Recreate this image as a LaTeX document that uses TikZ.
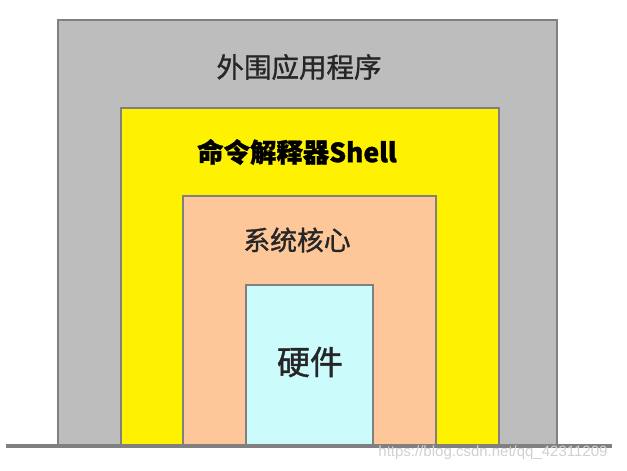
\documentclass[tikz,border=0pt]{standalone}
\usepackage{fontspec}
\setmainfont{Liberation Sans}
\newfontfamily\cjk[FakeBold=1.2]{Noto Sans CJK SC}
\begin{document}
\begin{tikzpicture}[x=1pt,y=1pt,
  layer/.style={draw=black!50, line width=2.5pt},
  lbl/.style={text=black!85}]
\useasboundingbox (0,0) rectangle (627,471);
\fill[white] (0,0) rectangle (627,471);
\filldraw[layer, fill=black!26] (58,25) |- (557,451) -- (557,25);
\filldraw[layer, fill=yellow] (121,25) |- (499,363) -- (499,25);
\filldraw[layer, fill={rgb,255:red,253;green,199;blue,153}] (183,25) |- (436,275) -- (436,25);
\filldraw[layer, fill={rgb,255:red,204;green,251;blue,251}] (246,25) |- (373,186) -- (373,25);
\node[lbl, font=\cjk\fontsize{27.5}{30}\selectfont] (app) at (299,404) {外围应用程序};
\node[lbl, font=\cjk\bfseries\fontsize{26.4}{30}\selectfont, text=black] (shell) at (297,319) {命令解释器Shell};
\node[lbl, font=\cjk\fontsize{26.8}{30}\selectfont] (kernel) at (297,231) {系统核心};
\node[lbl, font=\cjk\fontsize{33}{36}\selectfont] (hw) at (310,109) {硬件};
\coordinate (b1) at (6,25);
\coordinate (b2) at (612,25);
\draw[black!50, line width=4pt] (b1) -- (b2);
\node[text=black!18, font=\fontsize{15}{17}\selectfont, inner sep=0pt] (wm) at (493,18) {https://blog.csdn.net/qq\_42311209};
\end{tikzpicture}
\end{document}
